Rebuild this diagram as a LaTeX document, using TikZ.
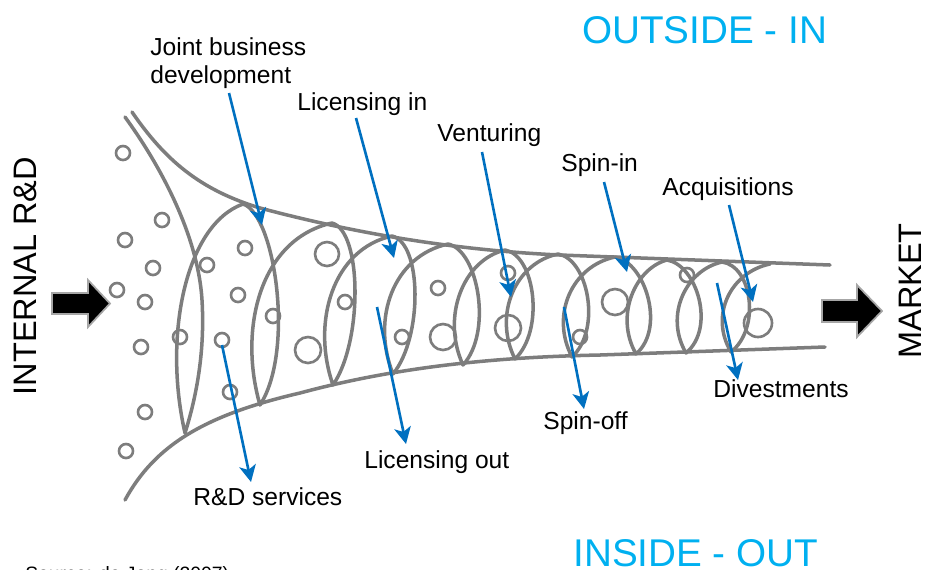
\documentclass[tikz,border=0pt]{standalone}
\usepackage{fontspec}
\setmainfont{Liberation Sans}
\usepackage{tikz}
\usetikzlibrary{arrows.meta}
\definecolor{coilgray}{RGB}{125,125,125}
\definecolor{moveblue}{RGB}{0,112,192}
\definecolor{sidecyan}{RGB}{0,176,240}
\tikzset{
  coil/.style={draw=coilgray, line width=2pt, line cap=round, line join=round},
  bubble/.style={draw=coilgray, line width=1.5pt},
  move/.style={-{Stealth[length=9.5pt,width=9.5pt,inset=2.5pt]}, draw=moveblue, line width=1.5pt},
  movelabel/.style={font=\fontsize{14}{16}\selectfont, inner sep=0pt, anchor=base west},
  sidelabel/.style={font=\fontsize{18.5}{20}\selectfont, rotate=90, inner sep=0pt},
  flowlabel/.style={font=\fontsize{22}{24}\selectfont, text=sidecyan, inner sep=0pt, anchor=base west},
  bigarrow/.style={fill=black, draw=gray!70, line width=1pt},
}

\begin{document}
\begin{tikzpicture}[x=0.02cm, y=-0.02cm]
  \useasboundingbox (0,0) rectangle (926,569);

  % funnel walls
  \draw[coil] (132,112) .. controls (165,160) and (200,190) .. (260,208)
    .. controls (350,232) and (450,250) .. (560,255) -- (830,265);
  \draw[coil] (125,500) .. controls (155,445) and (205,415) .. (300,393)
    .. controls (400,366) and (500,357) .. (600,355) -- (825,347);

  % the coil, bottom points on the lower wall, tops on the upper wall
  \draw[coil] (125,117) .. controls (160,165) and (198,235) .. (202,300)
    .. controls (205,350) and (197,395) .. (185,433)
    .. controls (163,337) and (185,225) .. (243,204)
    .. controls (275,214) and (295,351) .. (260,405)
    .. controls (238,329) and (260,239) .. (332,223)
    .. controls (362,231) and (363,341) .. (333,385)
    .. controls (311,322) and (333,249) .. (392,236)
    .. controls (422,243) and (423,337) .. (393,374)
    .. controls (371,319) and (393,256) .. (448,244)
    .. controls (478,250) and (493,332) .. (463,365)
    .. controls (441,317) and (463,260) .. (505,250)
    .. controls (535,255) and (545,330) .. (515,359)
    .. controls (493,315) and (515,263) .. (558,254)
    .. controls (588,259) and (602,329) .. (572,357)
    .. controls (550,315) and (572,266) .. (615,257)
    .. controls (645,262) and (666,328) .. (636,354)
    .. controls (614,315) and (636,268) .. (667,260)
    .. controls (697,265) and (716,328) .. (686,353)
    .. controls (664,315) and (686,270) .. (722,262)
    .. controls (752,266) and (761,328) .. (731,352)
    .. controls (709,315) and (731,272) .. (770,264);

  % ideas outside the funnel
  \draw[bubble] (123,153) circle (7); \draw[bubble] (162,220) circle (7);
  \draw[bubble] (125,240) circle (7); \draw[bubble] (153,268) circle (7);
  \draw[bubble] (117,290) circle (7); \draw[bubble] (145,302) circle (7);
  \draw[bubble] (141,347) circle (7); \draw[bubble] (145,412) circle (7);
  \draw[bubble] (126,451) circle (7);
  % ideas inside the funnel
  \draw[bubble] (207,265) circle (7); \draw[bubble] (245,248) circle (7);
  \draw[bubble] (238,295) circle (7); \draw[bubble] (273,316) circle (7);
  \draw[bubble] (180,337) circle (7); \draw[bubble] (222,340) circle (7);
  \draw[bubble] (230,392) circle (7); \draw[bubble] (345,302) circle (7);
  \draw[bubble] (402,337) circle (7); \draw[bubble] (438,288) circle (7);
  \draw[bubble] (508,273) circle (7); \draw[bubble] (580,337) circle (7);
  \draw[bubble] (687,275) circle (7);
  \draw[bubble] (327,254) circle (12); \draw[bubble] (308,350) circle (13);
  \draw[bubble] (443,337) circle (13); \draw[bubble] (508,328) circle (13);
  \draw[bubble] (615,302) circle (13); \draw[bubble] (758,323) circle (14);

  % in and out arrows
  \filldraw[bigarrow] (52,293) -- (88,293) -- (88,280) -- (110,303.5)
    -- (88,327) -- (88,314) -- (52,314) -- cycle;
  \filldraw[bigarrow] (822,300) -- (857,300) -- (857,285) -- (882,311)
    -- (857,337) -- (857,322) -- (822,322) -- cycle;

  \node[sidelabel] (internal) at (25,276) {INTERNAL R\&D};
  \node[sidelabel] (market) at (910,291) {MARKET};
  \node[flowlabel] (outin) at (582,43) {OUTSIDE - IN};
  \node[flowlabel] (inout) at (573,566) {INSIDE - OUT};
  \node[anchor=base west, inner sep=0pt, font=\fontsize{11}{13}\selectfont]
    (source) at (25,580) {Source: de Jong (2007)};

  % outside-in moves
  \node[movelabel, align=left, anchor=north west] (jbd) at (150,37) {Joint business\\development};
  \node[movelabel] (licin) at (297,110) {Licensing in};
  \node[movelabel] (vent) at (437,141) {Venturing};
  \node[movelabel] (spinin) at (561,171) {Spin-in};
  \node[movelabel] (acq) at (662,195) {Acquisitions};
  % inside-out moves
  \node[movelabel] (rnd) at (193,505) {R\&D services};
  \node[movelabel] (licout) at (364,468) {Licensing out};
  \node[movelabel] (spinoff) at (543,429) {Spin-off};
  \node[movelabel] (divest) at (713,397) {Divestments};

  \coordinate (jbd-a) at (229,93);      \coordinate (jbd-b) at (262,225);
  \coordinate (licin-a) at (356,118);   \coordinate (licin-b) at (394,258);
  \coordinate (vent-a) at (482,152);    \coordinate (vent-b) at (511,297);
  \coordinate (spinin-a) at (604,182);  \coordinate (spinin-b) at (627,272);
  \coordinate (acq-a) at (729,205);     \coordinate (acq-b) at (753,302);
  \coordinate (rnd-a) at (222,345);     \coordinate (rnd-b) at (251,482);
  \coordinate (licout-a) at (377,307);  \coordinate (licout-b) at (406,444);
  \coordinate (spinoff-a) at (564,307); \coordinate (spinoff-b) at (584,409);
  \coordinate (divest-a) at (717,283);  \coordinate (divest-b) at (738,380);

  \draw[move] (jbd-a) -- (jbd-b);
  \draw[move] (licin-a) -- (licin-b);
  \draw[move] (vent-a) -- (vent-b);
  \draw[move] (spinin-a) -- (spinin-b);
  \draw[move] (acq-a) -- (acq-b);
  \draw[move] (rnd-a) -- (rnd-b);
  \draw[move] (licout-a) -- (licout-b);
  \draw[move] (spinoff-a) -- (spinoff-b);
  \draw[move] (divest-a) -- (divest-b);
\end{tikzpicture}
\end{document}
